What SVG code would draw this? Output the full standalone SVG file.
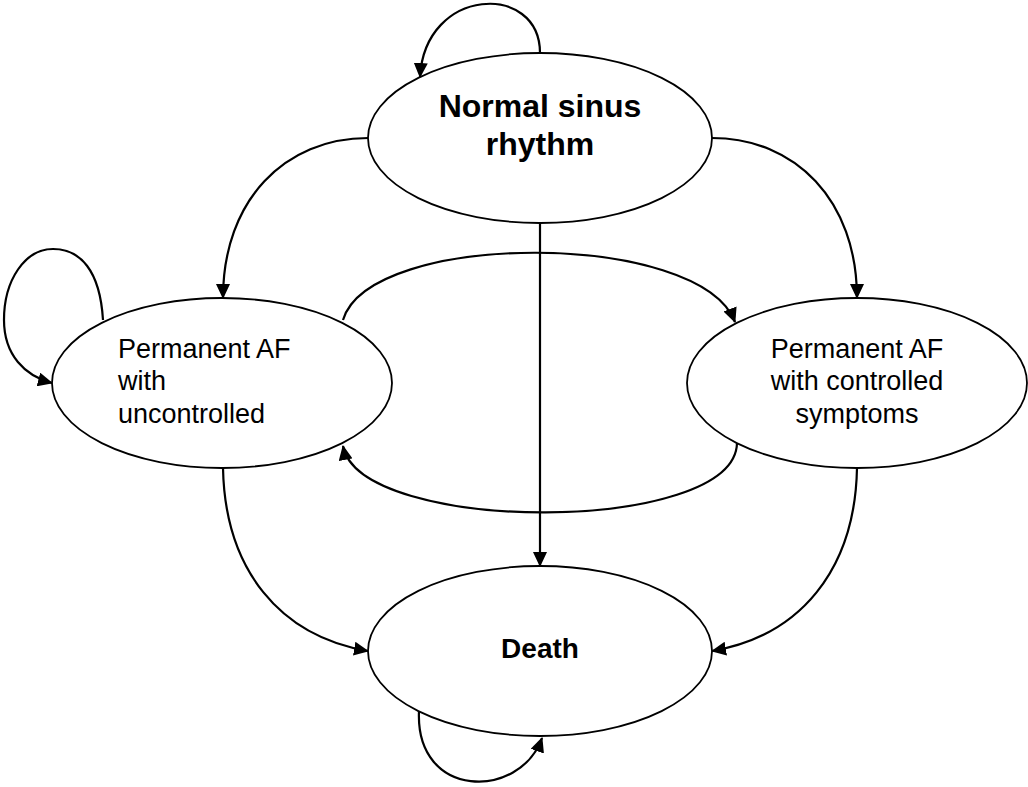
<svg xmlns="http://www.w3.org/2000/svg" width="1028" height="787" viewBox="0 0 1028 787">
<defs>
<marker id="ah" markerUnits="userSpaceOnUse" markerWidth="15" markerHeight="14" refX="14" refY="7" orient="auto">
<path d="M0,0 L15,7 L0,14 z" fill="#000"/>
</marker>
<style>
.node{fill:#fff;stroke:#000;stroke-width:1.8}
.edge{fill:none;stroke:#000;stroke-width:2.2;marker-end:url(#ah)}
.t{font-family:"Liberation Sans",Arial,sans-serif;fill:#000}
.b{font-weight:bold}
</style>
</defs>
<rect width="1028" height="787" fill="#fff"/>
<g id="connectors">
<path class="edge" d="M540,53 C540,-18 425,-14 420,77"/>
<path class="edge" d="M368,138 C285,138 223,200 223,298"/>
<path class="edge" d="M712,138 C795,138 857,200 857,298"/>
<path class="edge" d="M540,223 L540,566"/>
<path class="edge" d="M343,320 C370,230 700,230 735,322"/>
<path class="edge" d="M737,443 C735,535 360,535 343,446"/>
<path class="edge" d="M223,468 C225,570 280,636 368,651"/>
<path class="edge" d="M857,468 C855,570 800,636 712,651"/>
<path class="edge" d="M419,711 C415,800 520,800 542,738"/>
<path class="edge" d="M103,320 C100,270 80,249 53,249 C25,249 4,280 4,320 C4,355 25,376 52,383"/>
</g>
<g id="normal">
<ellipse class="node" cx="540" cy="138" rx="172" ry="85"/>
<text class="t b" x="540" y="117" font-size="32" text-anchor="middle">Normal sinus</text>
<text class="t b" x="540" y="155" font-size="32" text-anchor="middle">rhythm</text>
</g>
<g id="uncontrolled">
<ellipse class="node" cx="222" cy="383" rx="170" ry="85"/>
<text class="t" x="118" y="358" font-size="27">Permanent AF</text>
<text class="t" x="118" y="390" font-size="27">with</text>
<text class="t" x="118" y="423" font-size="27">uncontrolled</text>
</g>
<g id="controlled">
<ellipse class="node" cx="857" cy="383" rx="170" ry="85"/>
<text class="t" x="857" y="358" font-size="27" text-anchor="middle">Permanent AF</text>
<text class="t" x="857" y="390" font-size="27" text-anchor="middle">with controlled</text>
<text class="t" x="857" y="423" font-size="27" text-anchor="middle">symptoms</text>
</g>
<g id="death">
<ellipse class="node" cx="540" cy="651" rx="172" ry="85"/>
<text class="t b" x="540" y="658" font-size="28" text-anchor="middle">Death</text>
</g>
</svg>
